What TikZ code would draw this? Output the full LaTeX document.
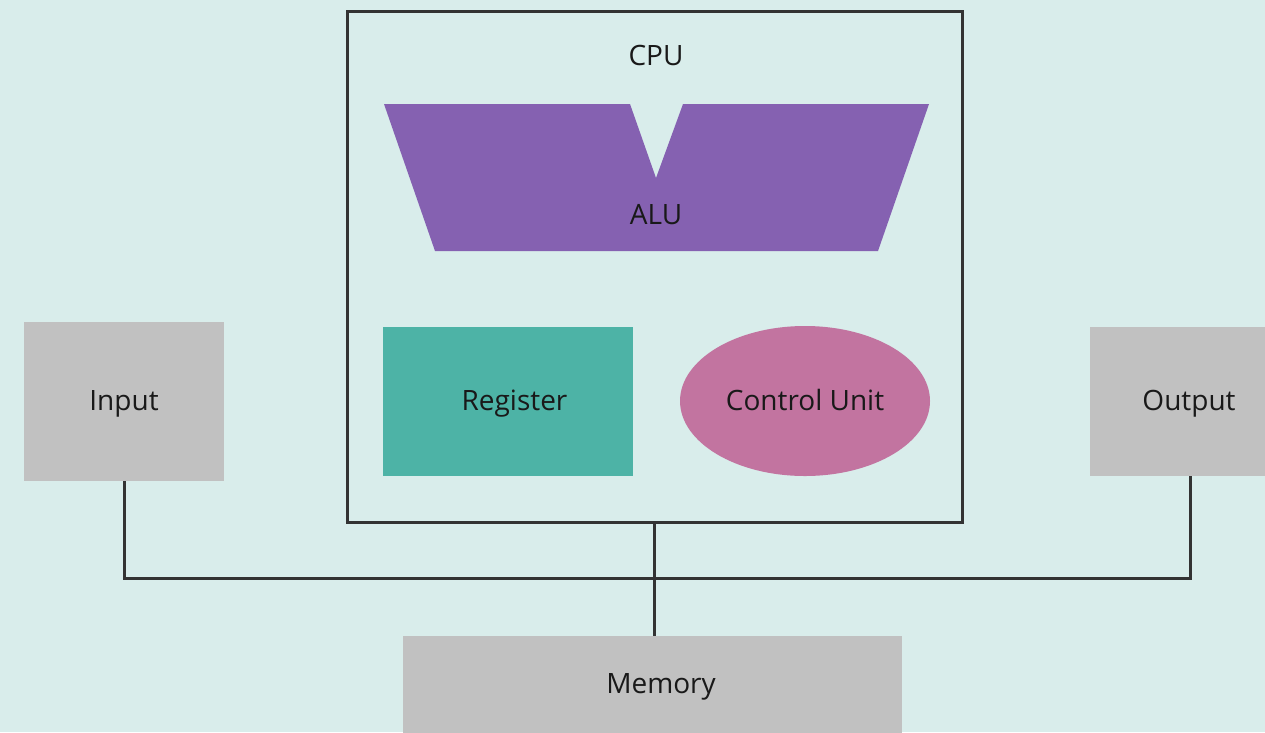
\documentclass[tikz,border=0pt]{standalone}
\usepackage{fontspec}
\setmainfont{Open Sans}
\usetikzlibrary{positioning}
\usetikzlibrary{shapes}
\usetikzlibrary{calc}

\definecolor{bgmint}{HTML}{D9EDEB}
\definecolor{unitgray}{HTML}{C1C1C1}
\definecolor{wiregray}{HTML}{333333}
\definecolor{regteal}{HTML}{4DB3A6}
\definecolor{alupurple}{HTML}{8561B1}
\definecolor{ctlpink}{HTML}{C274A0}

\begin{document}
\begin{tikzpicture}[x=1pt, y=-1pt, font=\fontsize{28}{33}\selectfont,
    unit/.style={fill=unitgray, inner sep=0pt, minimum width=200pt, minimum height=159pt},
    wire/.style={draw=wiregray, line width=3pt},
    lbl/.style={text=black!90, inner sep=0pt, text height=20pt, text depth=0pt}]
    \fill[bgmint] (0,0) rectangle (1265,732);
    \useasboundingbox (0,0) rectangle (1265,732);
    % cpu frame
    \node[wire, minimum width=615pt, minimum height=511pt, inner sep=0pt] (cpu) at (654.5,266.5) {};
    \node[lbl] (cpulbl) at (656,55) {CPU};
    \fill[alupurple] (384,104) -- (630,104) -- (656,178) -- (683,104) -- (929,104)
        -- (878,251) -- (435,251) -- cycle;
    \node[lbl] (alu) at (656,214) {ALU};
    \node[fill=regteal, inner sep=0pt, minimum width=250pt, minimum height=149pt] (reg) at (508,401.5) {};
    \node[lbl] (reglbl) at (514.5,400) {Register};
    \node[ellipse, fill=ctlpink, inner sep=0pt, minimum width=250pt, minimum height=150pt] (ctl) at (805,401) {};
    \node[lbl] (ctllbl) at (805,400) {Control Unit};
    % outside units
    \node[unit] (input) at (124,401.5) {};
    \node[lbl] (inlbl) at (124,400) {Input};
    \node[unit, minimum height=149pt] (output) at (1190,401.5) {};
    \node[lbl] (outlbl) at (1189,400) {Output};
    \node[unit, minimum width=499pt, minimum height=100pt] (memory) at (652.5,686) {};
    \node[lbl] (memlbl) at (661,683) {Memory};
    % bus
    \coordinate (bus) at (655,578);
    \draw[wire] (input.south) -- (input.south |- bus) -| (output.south);
    \draw[wire] (cpu.south) -- (cpu.south |- memory.north);
\end{tikzpicture}
\end{document}
